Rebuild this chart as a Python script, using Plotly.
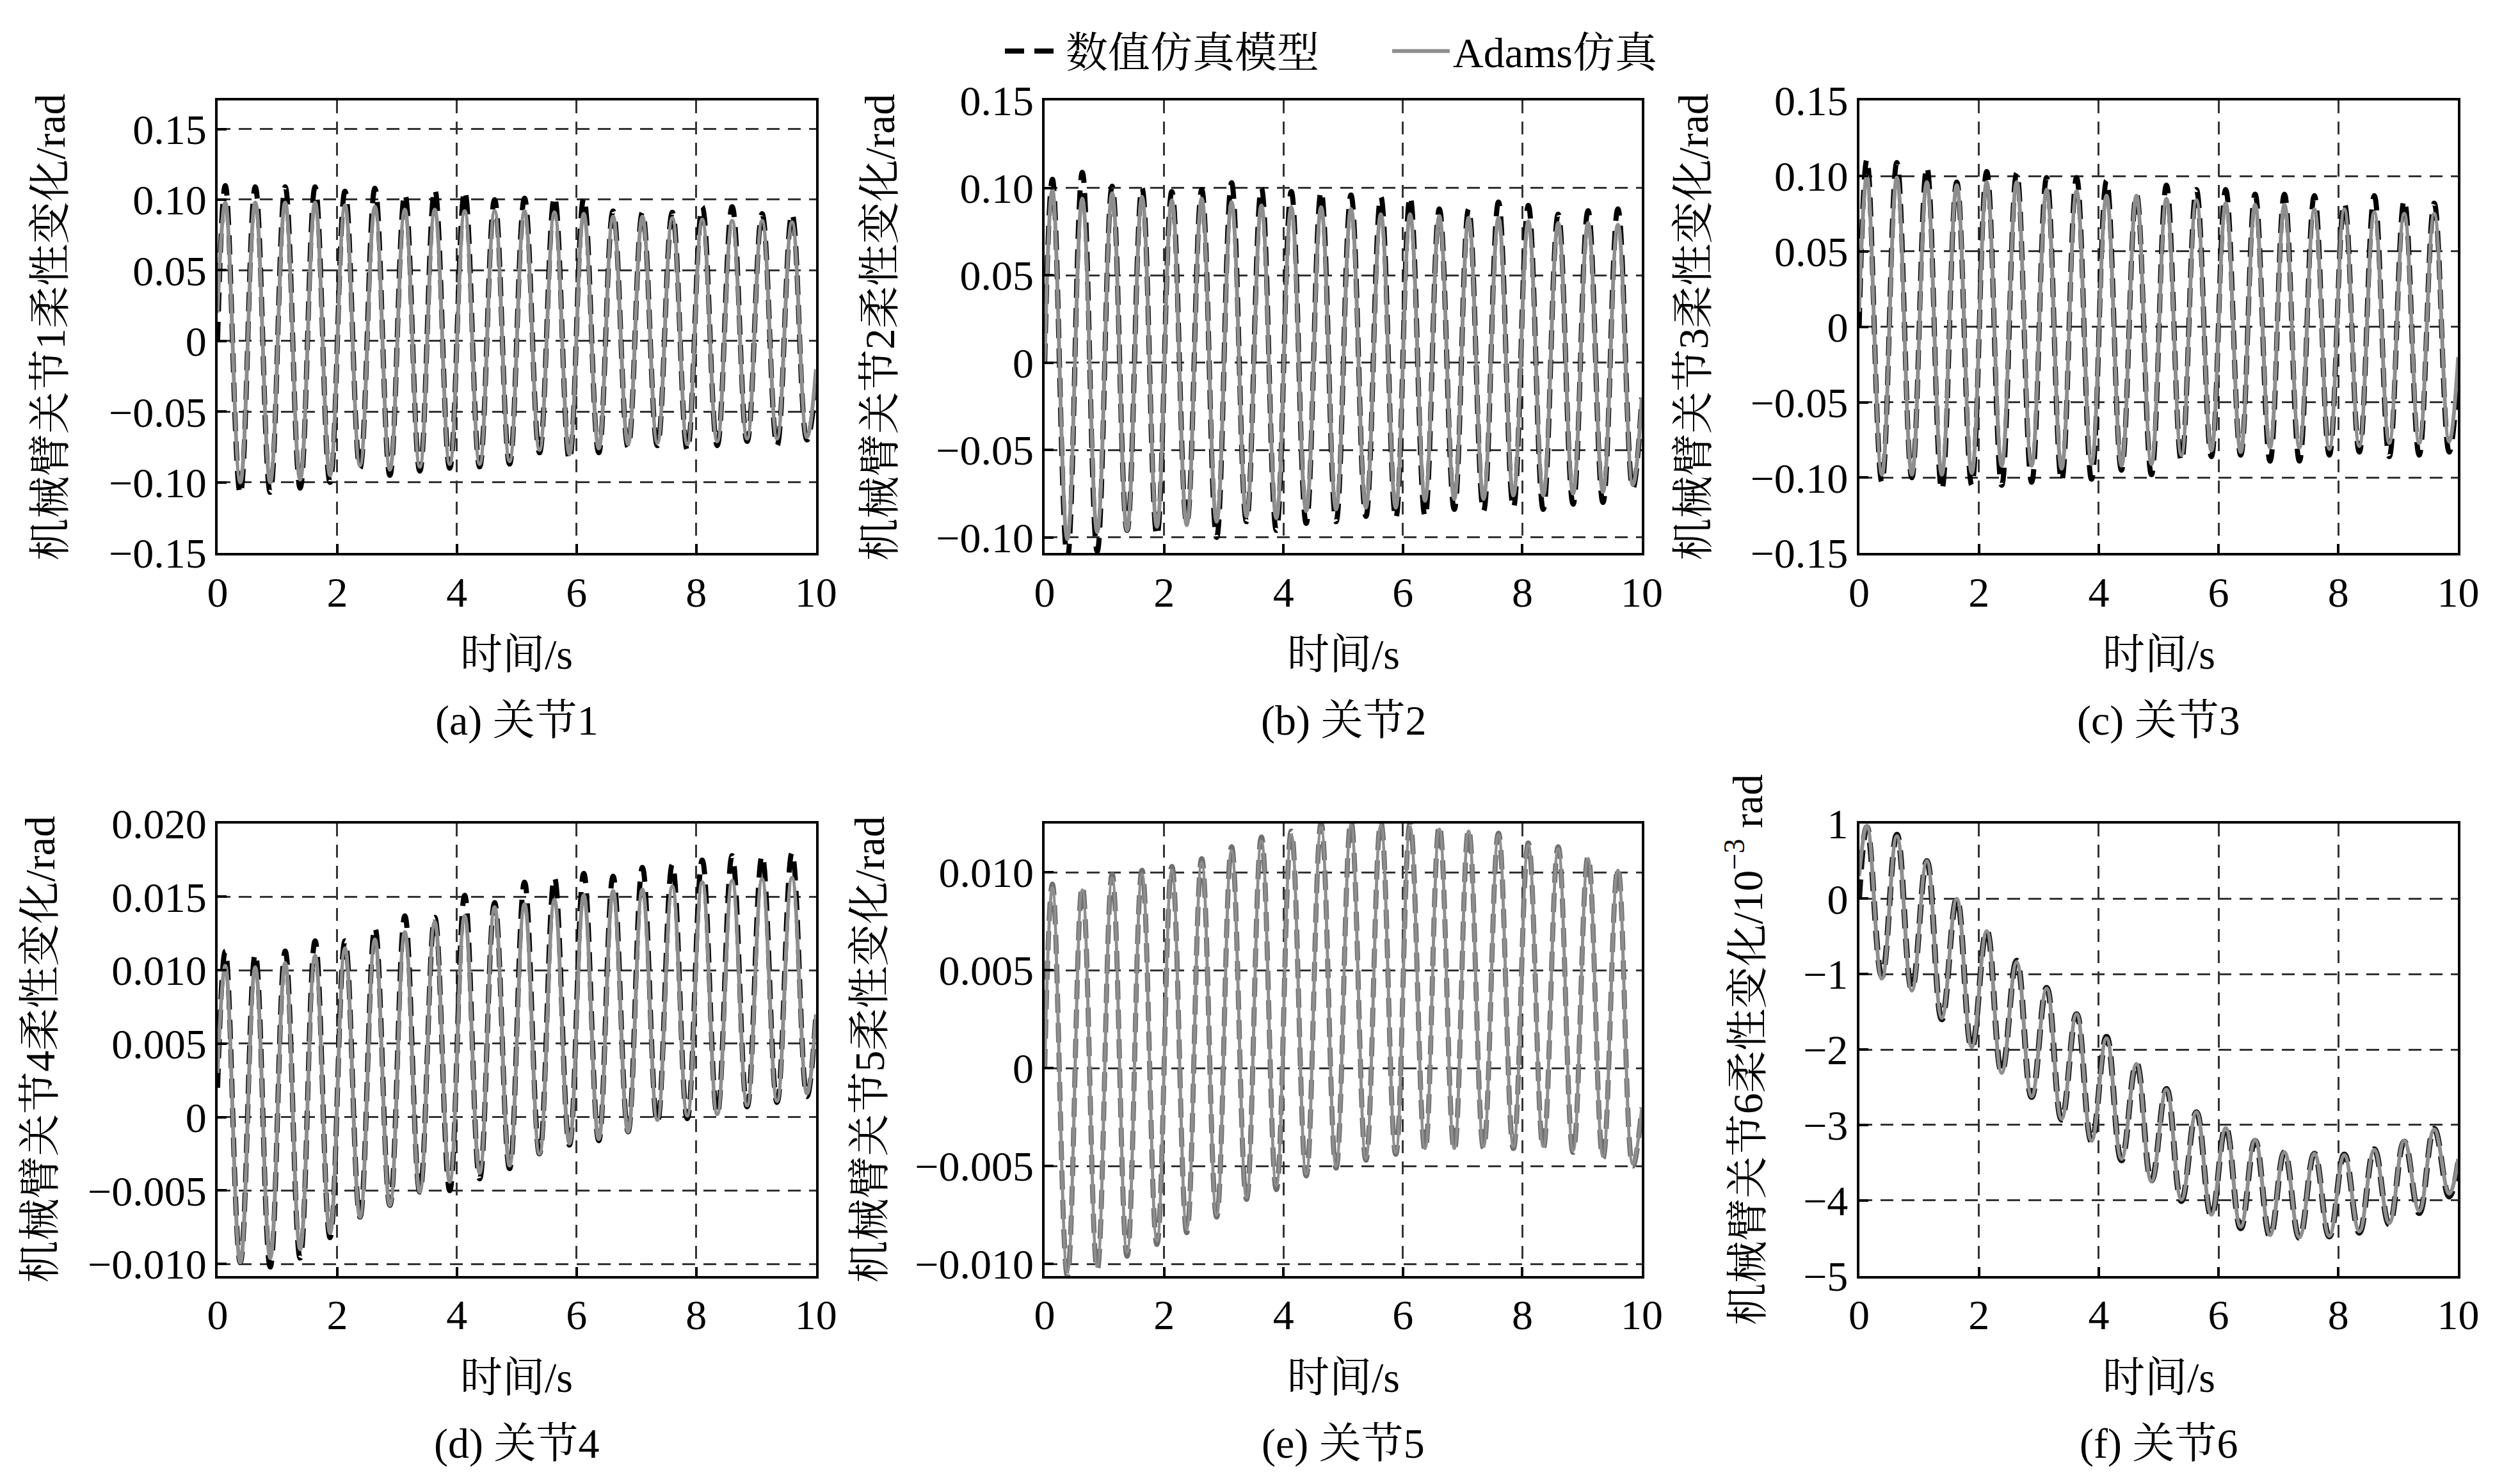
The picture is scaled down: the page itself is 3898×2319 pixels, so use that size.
import plotly.graph_objects as go
from plotly.subplots import make_subplots

# 各关节柔性变化曲线：波峰/波谷时刻与数值
PEAK_T = [0.13, 0.63, 1.13, 1.63, 2.13, 2.63, 3.13, 3.63, 4.13, 4.63,
          5.13, 5.63, 6.12, 6.61, 7.10, 7.60, 8.10, 8.60, 9.10, 9.60]
TROUGH_T = [0.38, 0.88, 1.38, 1.88, 2.38, 2.88, 3.38, 3.88, 4.38, 4.88,
            5.38, 5.88, 6.37, 6.86, 7.35, 7.85, 8.35, 8.85, 9.35, 9.85]
T_START, T_END = 0.0, 10.0

# 关节1
J1_NUM_PK = [0.110, 0.109, 0.109, 0.109, 0.106, 0.108, 0.104, 0.107, 0.106, 0.100,
             0.101, 0.102, 0.101, 0.092, 0.091, 0.091, 0.095, 0.095, 0.090, 0.090]
J1_NUM_TR = [-0.108, -0.107, -0.104, -0.100, -0.090, -0.095, -0.092, -0.090, -0.089, -0.087,
             -0.079, -0.084, -0.079, -0.075, -0.074, -0.077, -0.074, -0.071, -0.074, -0.070]
J1_ADM_PK = [0.098, 0.098, 0.098, 0.098, 0.096, 0.095, 0.093, 0.093, 0.092, 0.092,
             0.092, 0.091, 0.090, 0.088, 0.088, 0.087, 0.086, 0.085, 0.085, 0.084]
J1_ADM_TR = [-0.100, -0.100, -0.098, -0.095, -0.088, -0.091, -0.089, -0.087, -0.087, -0.085,
             -0.077, -0.080, -0.076, -0.073, -0.072, -0.073, -0.071, -0.069, -0.069, -0.068]
J1_ENDS = {"num": (0.0, -0.03), "adm": (0.02, -0.02)}

# 关节2
J2_NUM_PK = [0.105, 0.109, 0.101, 0.100, 0.098, 0.099, 0.103, 0.100, 0.098, 0.098,
             0.096, 0.095, 0.095, 0.088, 0.088, 0.092, 0.090, 0.085, 0.087, 0.088]
J2_NUM_TR = [-0.112, -0.108, -0.096, -0.099, -0.092, -0.100, -0.091, -0.096, -0.092, -0.091,
             -0.088, -0.089, -0.088, -0.084, -0.085, -0.083, -0.084, -0.081, -0.080, -0.072]
J2_ADM_PK = [0.099, 0.094, 0.097, 0.095, 0.093, 0.094, 0.092, 0.090, 0.089, 0.089,
             0.088, 0.085, 0.085, 0.084, 0.083, 0.083, 0.081, 0.080, 0.080, 0.079]
J2_ADM_TR = [-0.101, -0.097, -0.096, -0.094, -0.093, -0.091, -0.088, -0.089, -0.085, -0.084,
             -0.083, -0.083, -0.079, -0.078, -0.078, -0.076, -0.076, -0.075, -0.074, -0.070]
J2_ENDS = {"num": (0.0, -0.02), "adm": (0.0, -0.02)}

# 关节3
J3_NUM_PK = [0.111, 0.109, 0.106, 0.096, 0.103, 0.102, 0.099, 0.099, 0.097, 0.088,
             0.094, 0.091, 0.091, 0.088, 0.088, 0.087, 0.082, 0.087, 0.084, 0.082]
J3_NUM_TR = [-0.103, -0.100, -0.108, -0.105, -0.105, -0.103, -0.102, -0.101, -0.095, -0.098,
             -0.089, -0.086, -0.085, -0.089, -0.089, -0.085, -0.083, -0.086, -0.085, -0.083]
J3_ADM_PK = [0.100, 0.099, 0.096, 0.094, 0.096, 0.096, 0.091, 0.090, 0.087, 0.087,
             0.085, 0.084, 0.082, 0.081, 0.081, 0.078, 0.078, 0.076, 0.075, 0.075]
J3_ADM_TR = [-0.098, -0.098, -0.098, -0.097, -0.092, -0.092, -0.094, -0.091, -0.092, -0.091,
             -0.085, -0.082, -0.083, -0.080, -0.080, -0.081, -0.079, -0.077, -0.077, -0.076]
J3_ENDS = {"num": (0.0, -0.03), "adm": (0.01, -0.02)}

# 关节4
J4_NUM_PK = [0.0113, 0.0111, 0.0113, 0.0120, 0.0120, 0.0129, 0.0137, 0.0136, 0.0151, 0.0146,
             0.0160, 0.0163, 0.0166, 0.0164, 0.0170, 0.0172, 0.0175, 0.0178, 0.0178, 0.0180]
J4_NUM_TR = [-0.0099, -0.0102, -0.0096, -0.0082, -0.0068, -0.0060, -0.0051, -0.0050, -0.0042, -0.0035,
             -0.0025, -0.0019, -0.0016, -0.0010, -0.0004, -0.0001, 0.0002, 0.0007, 0.0010, 0.0014]
J4_ADM_PK = [0.0103, 0.0102, 0.0105, 0.0110, 0.0115, 0.0121, 0.0126, 0.0133, 0.0137, 0.0143,
             0.0145, 0.0148, 0.0151, 0.0154, 0.0155, 0.0157, 0.0160, 0.0161, 0.0162, 0.0163]
J4_ADM_TR = [-0.0099, -0.0096, -0.0090, -0.0079, -0.0068, -0.0060, -0.0051, -0.0044, -0.0038, -0.0033,
             -0.0025, -0.0018, -0.0015, -0.0010, -0.0002, 0.0001, 0.0002, 0.0008, 0.0011, 0.0016]
J4_ENDS = {"num": (0.002, 0.007), "adm": (0.003, 0.007)}

# 关节5
J5_NUM_PK = [0.0094, 0.0093, 0.0099, 0.0101, 0.0103, 0.0107, 0.0113, 0.0118, 0.0121, 0.0125,
             0.0126, 0.0126, 0.0125, 0.0124, 0.0122, 0.0120, 0.0115, 0.0113, 0.0108, 0.0102]
J5_NUM_TR = [-0.0106, -0.0103, -0.0096, -0.0090, -0.0084, -0.0076, -0.0067, -0.0062, -0.0055, -0.0051,
             -0.0047, -0.0044, -0.0042, -0.0042, -0.0041, -0.0041, -0.0041, -0.0043, -0.0046, -0.0050]
J5_ADM_PK = [0.0092, 0.0091, 0.0097, 0.0099, 0.0101, 0.0105, 0.0111, 0.0116, 0.0119, 0.0123,
             0.0124, 0.0124, 0.0123, 0.0122, 0.0121, 0.0119, 0.0114, 0.0112, 0.0107, 0.0101]
J5_ADM_TR = [-0.0104, -0.0101, -0.0094, -0.0088, -0.0082, -0.0075, -0.0066, -0.0060, -0.0054, -0.0050,
             -0.0046, -0.0043, -0.0041, -0.0041, -0.0040, -0.0040, -0.0040, -0.0042, -0.0045, -0.0049]
J5_ENDS = {"num": (0.0, -0.002), "adm": (0.0, -0.002)}

# 关节6 (单位 10^-3 rad)
J6_NUM_PK = [0.95, 0.85, 0.50, 0.00, -0.42, -0.82, -1.18, -1.53, -1.83, -2.18,
             -2.52, -2.83, -3.03, -3.21, -3.36, -3.38, -3.39, -3.32, -3.22, -3.05]
J6_NUM_TR = [-1.03, -1.20, -1.60, -1.98, -2.30, -2.63, -2.93, -3.22, -3.47, -3.74,
             -4.01, -4.21, -4.37, -4.48, -4.50, -4.48, -4.43, -4.32, -4.17, -3.95]
J6_ADM_PK = [0.97, 0.83, 0.50, 0.00, -0.43, -0.84, -1.19, -1.53, -1.85, -2.19,
             -2.53, -2.83, -3.04, -3.20, -3.36, -3.38, -3.40, -3.33, -3.21, -3.06]
J6_ADM_TR = [-1.06, -1.22, -1.58, -1.97, -2.31, -2.62, -2.92, -3.21, -3.45, -3.75,
             -3.99, -4.19, -4.35, -4.46, -4.49, -4.47, -4.41, -4.30, -4.14, -3.91]
J6_ENDS = {"num": (0.0, -3.50), "adm": (0.3, -3.45)}

X_TICKS = [0, 2, 4, 6, 8, 10]
Y_TICKS_BIG = [-0.15, -0.10, -0.05, 0, 0.05, 0.10, 0.15]
Y_TEXT_BIG = ["\u22120.15", "\u22120.10", "\u22120.05", "0", "0.05", "0.10", "0.15"]
Y_TICKS_J4 = [-0.010, -0.005, 0, 0.005, 0.010, 0.015, 0.020]
Y_TEXT_J4 = ["\u22120.010", "\u22120.005", "0", "0.005", "0.010", "0.015", "0.020"]
Y_TICKS_J5 = [-0.010, -0.005, 0, 0.005, 0.010]
Y_TEXT_J5 = ["\u22120.010", "\u22120.005", "0", "0.005", "0.010"]
Y_TICKS_J6 = [-5, -4, -3, -2, -1, 0, 1]
Y_TEXT_J6 = ["\u22125", "\u22124", "\u22123", "\u22122", "\u22121", "0", "1"]

LEGEND_NAMES = ["数值仿真模型", "Adams仿真"]
CAPTIONS = ["(a) 关节1", "(b) 关节2", "(c) 关节3", "(d) 关节4", "(e) 关节5", "(f) 关节6"]
Y_TITLES = ["机械臂关节1柔性变化/rad", "机械臂关节2柔性变化/rad", "机械臂关节3柔性变化/rad",
            "机械臂关节4柔性变化/rad", "机械臂关节5柔性变化/rad",
            "机械臂关节6柔性变化/10<sup>\u22123</sup> rad"]
X_TITLE = "时间/s"

FONT = "Liberation Serif, Times New Roman, Noto Serif CJK SC, Noto Sans CJK SC"
FS = 66


def series(pk, tr, ends):
    xs, ys = [T_START], [ends[0]]
    for tp, vp, tt, vt in zip(PEAK_T, pk, TROUGH_T, tr):
        xs += [tp, tt]
        ys += [vp, vt]
    xs.append(T_END)
    ys.append(ends[1])
    return xs, ys


panels = [
    (J1_NUM_PK, J1_NUM_TR, J1_ADM_PK, J1_ADM_TR, J1_ENDS, [-0.15, 0.17], Y_TICKS_BIG, Y_TEXT_BIG),
    (J2_NUM_PK, J2_NUM_TR, J2_ADM_PK, J2_ADM_TR, J2_ENDS, [-0.109, 0.15], Y_TICKS_BIG, Y_TEXT_BIG),
    (J3_NUM_PK, J3_NUM_TR, J3_ADM_PK, J3_ADM_TR, J3_ENDS, [-0.15, 0.15], Y_TICKS_BIG, Y_TEXT_BIG),
    (J4_NUM_PK, J4_NUM_TR, J4_ADM_PK, J4_ADM_TR, J4_ENDS, [-0.0108, 0.020], Y_TICKS_J4, Y_TEXT_J4),
    (J5_NUM_PK, J5_NUM_TR, J5_ADM_PK, J5_ADM_TR, J5_ENDS, [-0.0106, 0.0125], Y_TICKS_J5, Y_TEXT_J5),
    (J6_NUM_PK, J6_NUM_TR, J6_ADM_PK, J6_ADM_TR, J6_ENDS, [-5, 1], Y_TICKS_J6, Y_TEXT_J6),
]

W, H = 3898, 2319
# 子图框在整幅图中的像素位置
X_DOM = [(319, 1266), (1628, 2573), (2917, 3865)]
Y_DOM = [(117, 847), (1283, 2013)]
YT_X = [55, 1367, 2655, 38, 1350, 2735]
XT_Y = [1010, 2177]
CAP_Y = [1117, 2284]

fig = make_subplots(rows=2, cols=3)

for i, (npk, ntr, apk, atr, ends, yr, yt, ytt) in enumerate(panels):
    r, c = i // 3 + 1, i % 3 + 1
    nx, ny = series(npk, ntr, ends["num"])
    ax, ay = series(apk, atr, ends["adm"])
    if i == 4:
        ncol, nw, acol, aw = "#6f6f6f", 8, "#8e8e8e", 5
    elif i == 5:
        ncol, nw, acol, aw = "#111111", 9, "#8e8e8e", 6
    else:
        ncol, nw, acol, aw = "#000000", 8, "#8e8e8e", 6
    fig.add_trace(go.Scatter(x=nx, y=ny, mode="lines", name=LEGEND_NAMES[0],
                             line=dict(color=ncol, width=nw, dash="30px,16px",
                                       shape="spline", smoothing=1.2),
                             showlegend=(i == 0)), row=r, col=c)
    fig.add_trace(go.Scatter(x=ax, y=ay, mode="lines", name=LEGEND_NAMES[1],
                             line=dict(color=acol, width=aw, shape="spline", smoothing=1.2),
                             showlegend=(i == 0)), row=r, col=c)

    x0, x1 = X_DOM[c - 1]
    y0, y1 = Y_DOM[r - 1]
    axis_common = dict(showline=True, linecolor="black", linewidth=4, mirror=True,
                       ticks="inside", ticklen=14, tickwidth=4, tickcolor="black",
                       showgrid=True, gridcolor="#333333", gridwidth=2.5,
                       griddash="20px,13px", zeroline=False,
                       tickfont=dict(family=FONT, size=FS, color="black"))
    fig.update_xaxes(domain=[x0 / W, x1 / W], range=[0, 10], tickvals=X_TICKS,
                     ticktext=[str(v) for v in X_TICKS], row=r, col=c, **axis_common)
    fig.update_yaxes(domain=[1 - y1 / H, 1 - y0 / H], range=yr, tickvals=yt,
                     ticktext=ytt, row=r, col=c, **axis_common)

    xc = (x0 + x1) / 2 / W
    fig.add_annotation(x=xc, y=1 - XT_Y[r - 1] / H, xref="paper", yref="paper",
                       text=X_TITLE, showarrow=False, xanchor="center", yanchor="middle",
                       font=dict(family=FONT, size=FS, color="black"))
    fig.add_annotation(x=xc, y=1 - CAP_Y[r - 1] / H, xref="paper", yref="paper",
                       text=CAPTIONS[i], showarrow=False, xanchor="center", yanchor="middle",
                       font=dict(family=FONT, size=FS, color="black"))
    fig.add_annotation(x=YT_X[i] / W, y=1 - (y0 + y1) / 2 / H, xref="paper", yref="paper",
                       text=Y_TITLES[i], textangle=-90, showarrow=False,
                       xanchor="center", yanchor="middle",
                       font=dict(family=FONT, size=FS, color="black"))

fig.update_layout(
    width=W, height=H, autosize=False,
    margin=dict(l=0, r=0, t=0, b=0),
    paper_bgcolor="white", plot_bgcolor="white",
    font=dict(family=FONT, size=FS, color="black"),
    legend=dict(orientation="h", x=1560 / W, y=1 - 37 / H, xanchor="left", yanchor="middle",
                font=dict(family=FONT, size=FS, color="black"),
                itemwidth=90, entrywidth=500, entrywidthmode="pixels",
                bgcolor="rgba(0,0,0,0)"),
)

fig.write_html("out.html")
